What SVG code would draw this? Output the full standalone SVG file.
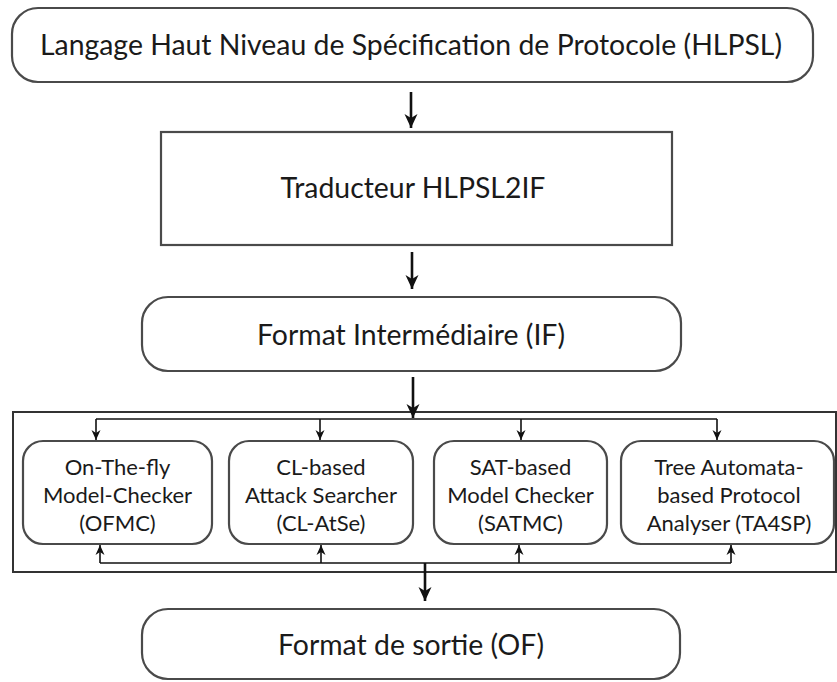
<svg xmlns="http://www.w3.org/2000/svg" width="837" height="682" viewBox="0 0 837 682">
<defs>
<style>
.box{fill:#fff;stroke:#4a4a4a;stroke-width:2.2}
.t{font-family:Lato,"Open Sans","Liberation Sans",sans-serif;fill:#1a1a1a;text-anchor:middle}
.big{font-size:28.4px}
.sm{font-size:22px}
.main{stroke:#111;stroke-width:2.6;fill:none}
.bus{stroke:#111;stroke-width:1.6;fill:none}
</style>
<marker id="ah" markerUnits="userSpaceOnUse" markerWidth="16" markerHeight="16" viewBox="0 0 16 16" refX="14" refY="8" orient="auto">
<path d="M0,1.5 L14,8 L0,14.5 L4,8 Z" fill="#111"/>
</marker>
<marker id="as" markerUnits="userSpaceOnUse" markerWidth="12" markerHeight="12" viewBox="0 0 12 12" refX="10" refY="6" orient="auto">
<path d="M0,1.5 L10,6 L0,10.5 L3,6 Z" fill="#111"/>
</marker>
</defs>
<rect width="837" height="682" fill="#fff"/>

<g id="container">
<rect x="13" y="412" width="823" height="160" fill="none" stroke="#333" stroke-width="2"/>
</g>

<g id="hlpsl">
<rect class="box" x="12" y="8" width="801" height="74" rx="26"/>
<text class="t big" x="411" y="55">Langage Haut Niveau de Spécification de Protocole (HLPSL)</text>
</g>
<g id="traducteur">
<rect class="box" x="161" y="132" width="511" height="113"/>
<text class="t big" x="413" y="198">Traducteur HLPSL2IF</text>
</g>
<g id="if">
<rect class="box" x="142" y="297" width="539" height="74" rx="26"/>
<text class="t big" x="411" y="345">Format Intermédiaire (IF)</text>
</g>
<g id="ofmc">
<rect class="box" x="23" y="441" width="189" height="103" rx="20"/>
<text class="t sm" x="117.5" y="475">On-The-fly</text>
<text class="t sm" x="117.5" y="503">Model-Checker</text>
<text class="t sm" x="117.5" y="531">(OFMC)</text>
</g>
<g id="clatse">
<rect class="box" x="229" y="441" width="184" height="103" rx="20"/>
<text class="t sm" x="321" y="475">CL-based</text>
<text class="t sm" x="321" y="503">Attack Searcher</text>
<text class="t sm" x="321" y="531">(CL-AtSe)</text>
</g>
<g id="satmc">
<rect class="box" x="434" y="441" width="173" height="103" rx="20"/>
<text class="t sm" x="520.5" y="475">SAT-based</text>
<text class="t sm" x="520.5" y="503">Model Checker</text>
<text class="t sm" x="520.5" y="531">(SATMC)</text>
</g>
<g id="ta4sp">
<rect class="box" x="621" y="441" width="213" height="103" rx="20"/>
<text class="t sm" x="729" y="475">Tree Automata-</text>
<text class="t sm" x="729" y="503">based Protocol</text>
<text class="t sm" x="729" y="531">Analyser (TA4SP)</text>
</g>
<g id="of">
<rect class="box" x="142" y="609" width="538" height="70" rx="26"/>
<text class="t big" x="411" y="655">Format de sortie (OF)</text>
</g>

<g id="connectors">
<line class="main" x1="411" y1="92" x2="411" y2="128" marker-end="url(#ah)"/>
<line class="main" x1="412" y1="252" x2="412" y2="289" marker-end="url(#ah)"/>
<line class="main" x1="413" y1="377" x2="413" y2="418" marker-end="url(#ah)"/>
<path class="bus" d="M96,419 H717"/>
<line class="bus" x1="96" y1="419" x2="96" y2="440" marker-end="url(#as)"/>
<line class="bus" x1="320" y1="419" x2="320" y2="440" marker-end="url(#as)"/>
<line class="bus" x1="521" y1="419" x2="521" y2="440" marker-end="url(#as)"/>
<line class="bus" x1="717" y1="419" x2="717" y2="440" marker-end="url(#as)"/>
<path class="bus" d="M100,563 H731"/>
<line class="bus" x1="100" y1="563" x2="100" y2="545" marker-end="url(#as)"/>
<line class="bus" x1="321" y1="563" x2="321" y2="545" marker-end="url(#as)"/>
<line class="bus" x1="519" y1="563" x2="519" y2="545" marker-end="url(#as)"/>
<line class="bus" x1="731" y1="563" x2="731" y2="545" marker-end="url(#as)"/>
<line class="main" x1="425" y1="563" x2="425" y2="601" marker-end="url(#ah)"/>
</g>
</svg>
